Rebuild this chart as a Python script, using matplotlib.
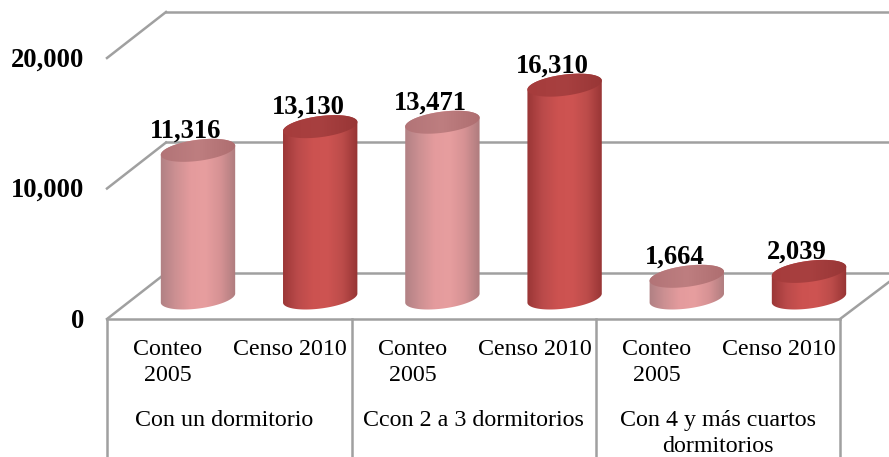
import numpy as np
import matplotlib
matplotlib.use("Agg")
import matplotlib.pyplot as plt
from matplotlib.colors import LinearSegmentedColormap
from matplotlib.patches import Polygon

# Data
groups = ["Con un dormitorio", "Ccon 2 a 3 dormitorios", "Con 4 y más cuartos\ndormitorios"]
bar_labels = ["Conteo\n2005", "Censo 2010", "Conteo\n2005", "Censo 2010", "Conteo\n2005", "Censo 2010"]
values = [11316, 13130, 13471, 16310, 1664, 2039]
y_ticks = [0, 10000, 20000]

plt.rcParams["font.family"] = ["Liberation Serif", "DejaVu Serif"]

W, H = 889, 457
# pixel scale of the chart
PX_PER_CAT = 122.2
PX_PER_VAL = 130.5 / 10000
FIRST_BAR_PX = 198
ZERO_PX = 319
ux = 1 / PX_PER_CAT     # one pixel in category units
uy = 1 / PX_PER_VAL     # one pixel in value units

fig = plt.figure(figsize=(W / 100, H / 100), dpi=100)
ax = fig.add_axes([0, 0, 1, 1])
xlim = (-FIRST_BAR_PX * ux, (W - FIRST_BAR_PX) * ux)
ylim = (-(H - ZERO_PX) * uy, ZERO_PX * uy)

grid_c = "#A0A0A0"
lw = 1.8
front_x = -91 * ux      # left edge of the floor front
back_x = front_x + 59 * ux
rise = 46 * uy

# walls
for v in y_ticks:
    ax.plot([front_x, back_x], [v, v + rise], color=grid_c, lw=lw, zorder=1)
    ax.plot([back_x, xlim[1]], [v + rise, v + rise], color=grid_c, lw=lw, zorder=1)

# floor front and category separators
right_x = 642 * ux
ax.plot([front_x, right_x], [0, 0], color=grid_c, lw=lw, zorder=1)
ax.plot([right_x, xlim[1]], [0, 37 * uy], color=grid_c, lw=lw, zorder=1)
for sx in [front_x, 154 * ux, 398 * ux, right_x]:
    ax.plot([sx, sx], [0, ylim[0]], color=grid_c, lw=lw, zorder=1)

# y tick labels
for v in y_ticks:
    ax.text(-114 * ux, v - 2 * uy, f"{v:,}", ha="right", va="center",
            fontsize=19.2, fontweight="bold", color="black")

light = LinearSegmentedColormap.from_list("l", ["#B08083", "#CC9092", "#E49B9D", "#E79E9F", "#D69294", "#AE7C7E"])
dark = LinearSegmentedColormap.from_list("d", ["#9A3636", "#BA4A4A", "#CC5250", "#CE5452", "#BC4C4A", "#963434"])
light_top = LinearSegmentedColormap.from_list("lt", ["#B27477", "#BE7E80", "#AE6E70"])
dark_top = LinearSegmentedColormap.from_list("dt", ["#A63C3C", "#A84040", "#983636"])

A, B = 37.5, 10.5
TILT = np.deg2rad(7.5)
BASE = 21 * uy     # cylinders stand in the middle of the floor


def ellipse(xc, yc, t):
    # ellipse in pixels (tilted), returned in data units
    px = A * np.cos(t) * np.cos(TILT) - B * np.sin(t) * np.sin(TILT)
    py = A * np.cos(t) * np.sin(TILT) + B * np.sin(t) * np.cos(TILT)
    return xc + px * ux, yc + py * uy


def shaded(xs, ys, cmap, xc, y0, y1, z):
    poly = Polygon(np.column_stack([xs, ys]), closed=True, transform=ax.transData,
                   fc="none", ec="none", zorder=z)
    ax.add_patch(poly)
    im = ax.imshow(np.linspace(0, 1, 128).reshape(1, -1), cmap=cmap, aspect="auto",
                   extent=[xc - 38 * ux, xc + 38 * ux, y0, y1], zorder=z)
    im.set_clip_path(poly)


for i, v in enumerate(values):
    cm, cm_top = (light, light_top) if i % 2 == 0 else (dark, dark_top)
    y_bot = BASE
    y_top = BASE + v
    lo = np.linspace(np.pi, 2 * np.pi, 80)
    up = np.linspace(0, np.pi, 80)
    bx, by = ellipse(i, y_bot, lo)
    tx, ty = ellipse(i, y_top, up)
    shaded(np.r_[bx, tx], np.r_[by, ty], cm, i, y_bot - 15 * uy, y_top + 15 * uy, 2 + i * 0.1)
    ex, ey = ellipse(i, y_top, np.linspace(0, 2 * np.pi, 160))
    shaded(ex, ey, cm_top, i, y_top - 15 * uy, y_top + 15 * uy, 2.05 + i * 0.1)
    ax.text(i - 12 * ux, y_top + 19 * uy, f"{v:,}", ha="center", va="center",
            fontsize=19.2, fontweight="bold", color="black", zorder=5)

# category labels
for i, lab in enumerate(bar_labels):
    ax.text(i - 30 * ux, -20 * uy, lab, ha="center", va="top", fontsize=17.3,
            linespacing=1.3, color="black")
for g, lab in enumerate(groups):
    shift = -5 if g == 0 else 0
    ax.text(2 * g + 0.5 + (shift - 30) * ux, -91 * uy, lab, ha="center", va="top", fontsize=17.3,
            linespacing=1.3, color="black")

ax.set_xlim(xlim)
ax.set_ylim(ylim)
ax.axis("off")
fig.savefig("out.png", dpi=100)
